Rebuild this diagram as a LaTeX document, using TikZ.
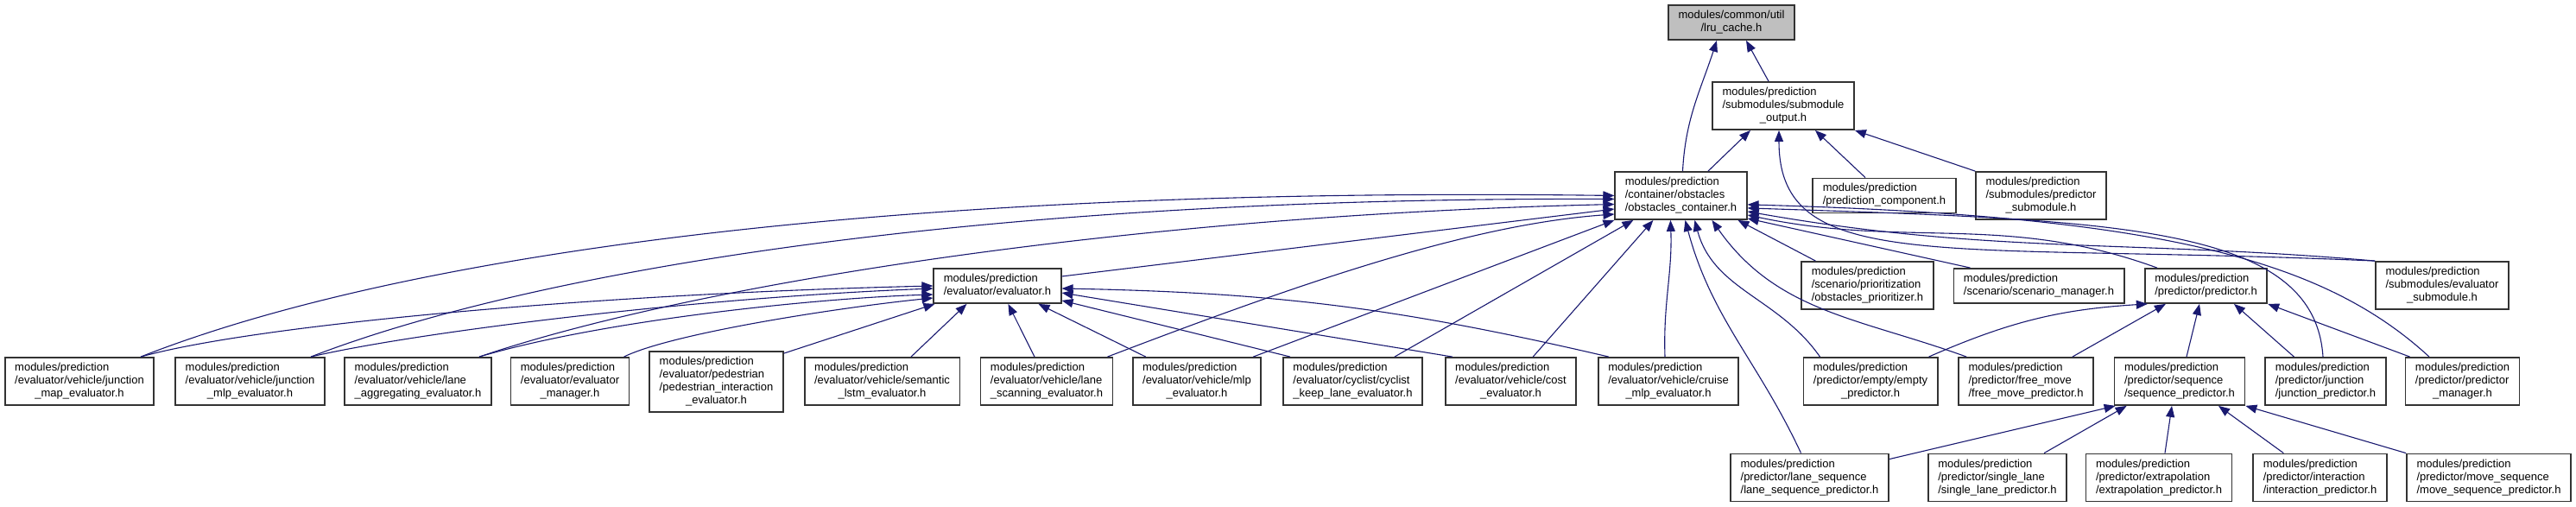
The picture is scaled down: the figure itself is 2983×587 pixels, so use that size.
\documentclass[tikz,border=0pt]{standalone}
\usepackage{fontspec}
\setmainfont{Liberation Sans}
\usetikzlibrary{arrows.meta}
\usepackage{xcolor}

\definecolor{edgeblue}{HTML}{191970}
\definecolor{rootgray}{HTML}{BFBFBF}
% label: left-aligned lines, last line centred
\newcommand{\flab}[2]{\begin{tabular}{@{}l@{}}#1\\\multicolumn{1}{@{}c@{}}{#2}\end{tabular}}

\begin{document}
\begin{tikzpicture}[
  x=0.5pt, y=-0.5pt,
  file/.style={draw=black!80, line width=0.9pt, fill=white,
               inner xsep=5.75pt, inner ysep=2.5pt,
               font=\fontsize{6.5}{7.5}\selectfont},
  root/.style={file, fill=rootgray},
  dep/.style={draw=edgeblue, line width=0.55pt,
              -{Triangle[length=6.5pt,width=5pt]}}
]
  \useasboundingbox (0,0) rectangle (2983,587);

  % top rows
  \node[root] (lru)      at (2005,26)     {\flab{modules/common/util}{/lru\_cache.h}};
  \node[file] (subout)   at (2065,122.5)  {\flab{modules/prediction\\/submodules/submodule}{\_output.h}};
  \node[file] (obst)     at (1946.5,226.5){\flab{modules/prediction\\/container/obstacles}{/obstacles\_container.h}};
  \node[file] (predcomp) at (2182,226.5)  {\flab{modules/prediction}{/prediction\_component.h}};
  \node[file] (predsub)  at (2363.5,226.5){\flab{modules/prediction\\/submodules/predictor}{\_submodule.h}};
  \node[file] (evalh)    at (1155,331)    {\flab{modules/prediction}{/evaluator/evaluator.h}};
  \node[file] (prior)    at (2162.5,330.5){\flab{modules/prediction\\/scenario/prioritization}{/obstacles\_prioritizer.h}};
  \node[file] (scenmgr)  at (2361,331)    {\flab{modules/prediction}{/scenario/scenario\_manager.h}};
  \node[file] (predh)    at (2554.5,331)  {\flab{modules/prediction}{/predictor/predictor.h}};
  \node[file] (evalsub)  at (2828,330.5)  {\flab{modules/prediction\\/submodules/evaluator}{\_submodule.h}};

  % evaluators and predictors
  \node[file] (jmap)      at (92,441.5)    {\flab{modules/prediction\\/evaluator/vehicle/junction}{\_map\_evaluator.h}};
  \node[file] (jmlp)      at (289.5,441.5) {\flab{modules/prediction\\/evaluator/vehicle/junction}{\_mlp\_evaluator.h}};
  \node[file] (laneagg)   at (484,441.5)   {\flab{modules/prediction\\/evaluator/vehicle/lane}{\_aggregating\_evaluator.h}};
  \node[file] (evalmgr)   at (660,441.5)   {\flab{modules/prediction\\/evaluator/evaluator}{\_manager.h}};
  \node[file] (ped)       at (829.5,442)   {\flab{modules/prediction\\/evaluator/pedestrian\\/pedestrian\_interaction}{\_evaluator.h}};
  \node[file] (semlstm)   at (1021.5,441.5){\flab{modules/prediction\\/evaluator/vehicle/semantic}{\_lstm\_evaluator.h}};
  \node[file] (lanescan)  at (1212,441.5)  {\flab{modules/prediction\\/evaluator/vehicle/lane}{\_scanning\_evaluator.h}};
  \node[file] (mlp)       at (1386,441.5)  {\flab{modules/prediction\\/evaluator/vehicle/mlp}{\_evaluator.h}};
  \node[file] (cyclist)   at (1566.5,441.5){\flab{modules/prediction\\/evaluator/cyclist/cyclist}{\_keep\_lane\_evaluator.h}};
  \node[file] (cost)      at (1749.5,441.5){\flab{modules/prediction\\/evaluator/vehicle/cost}{\_evaluator.h}};
  \node[file] (cruise)    at (1932,441.5)  {\flab{modules/prediction\\/evaluator/vehicle/cruise}{\_mlp\_evaluator.h}};
  \node[file] (empty)     at (2166,441.5)  {\flab{modules/prediction\\/predictor/empty/empty}{\_predictor.h}};
  \node[file] (freemove)  at (2346,441.5)  {\flab{modules/prediction\\/predictor/free\_move}{/free\_move\_predictor.h}};
  \node[file] (seq)       at (2524,441.5)  {\flab{modules/prediction\\/predictor/sequence}{/sequence\_predictor.h}};
  \node[file] (junctpred) at (2693,441.5)  {\flab{modules/prediction\\/predictor/junction}{/junction\_predictor.h}};
  \node[file] (predmgr)   at (2851.5,441.5){\flab{modules/prediction\\/predictor/predictor}{\_manager.h}};

  % sequence predictors
  \node[file] (lanesq)   at (2095.5,553) {\flab{modules/prediction\\/predictor/lane\_sequence}{/lane\_sequence\_predictor.h}};
  \node[file] (single)   at (2313,553)   {\flab{modules/prediction\\/predictor/single\_lane}{/single\_lane\_predictor.h}};
  \node[file] (extrap)   at (2500,553)   {\flab{modules/prediction\\/predictor/extrapolation}{/extrapolation\_predictor.h}};
  \node[file] (interact) at (2686.5,553) {\flab{modules/prediction\\/predictor/interaction}{/interaction\_predictor.h}};
  \node[file] (moveseq)  at (2882,553)   {\flab{modules/prediction\\/predictor/move\_sequence}{/move\_sequence\_predictor.h}};

  % includes of lru_cache.h
  \draw[dep] ([xshift=-8.5pt]subout.north) -- ([xshift=8.5pt]lru.south);
  \draw[dep] ([xshift=1pt]obst.north) to[out=87,in=-108] ([xshift=-8.5pt]lru.south);

  % includes of submodule_output.h
  \draw[dep] ([xshift=15.75pt]obst.north) -- ([xshift=-19pt]subout.south);
  \draw[dep] ([xshift=-11pt]predcomp.north) -- ([xshift=18.5pt]subout.south);
  \draw[dep] (predsub.north west) -- (subout.south east);
  \draw[dep] (evalsub.north west) .. controls (2250,280) and (2060,320) .. ([xshift=-2.5pt]subout.south);

  % includes of obstacles_container.h
  \draw[dep] ([xshift=35.5pt]jmap.north) .. controls (450,300) and (1000,215) .. (obst.west);
  \draw[dep] ([xshift=35.25pt]jmlp.north) .. controls (600,320) and (1100,228) .. ([yshift=-2pt]obst.west);
  \draw[dep] ([xshift=35.5pt]laneagg.north) .. controls (800,330) and (1300,250) .. ([yshift=-5pt]obst.west);
  \draw[dep] ([yshift=5.5pt]evalh.east) -- ([yshift=-7.75pt]obst.west);
  \draw[dep] ([xshift=-3.5pt]lanescan.north east) .. controls (1500,330) and (1700,260) .. ([yshift=-10.75pt]obst.west);
  \draw[dep] ([xshift=-5pt]mlp.north east) -- (obst.south west);
  \draw[dep] ([xshift=-16.5pt]cyclist.north east) -- ([xshift=11pt]obst.south west);
  \draw[dep] ([xshift=-25.5pt]cost.north east) -- ([xshift=22.5pt]obst.south west);
  \draw[dep] ([xshift=-2pt]cruise.north) to[out=92,in=-88] ([xshift=32.5pt]obst.south west);
  \draw[dep] ([xshift=-5pt]lanesq.north) to[out=115,in=-75] ([xshift=41pt]obst.south west);
  \draw[dep] ([xshift=10pt]empty.north west) to[out=125,in=-75] ([xshift=46.5pt]obst.south west);
  \draw[dep] ([xshift=5pt]freemove.north west) to[out=160,in=-55] ([xshift=56.5pt]obst.south west);
  \draw[dep] ([xshift=8.5pt]prior.north west) -- ([xshift=71.5pt]obst.south west);
  \draw[dep] ([xshift=10pt]scenmgr.north west) -- ([yshift=1pt]obst.south east);
  \draw[dep] ([xshift=7.5pt]predh.north west) to[out=160,in=-12] ([yshift=3pt]obst.south east);
  \draw[dep] (evalsub.north west) to[out=175,in=-10] ([yshift=5pt]obst.south east);
  \draw[dep] ([xshift=-1.5pt]junctpred.north) .. controls (2680,260) and (2450,255) .. ([yshift=7pt]obst.south east);
  \draw[dep] ([xshift=-19.25pt]predmgr.north) .. controls (2690,300) and (2500,250) .. ([yshift=9pt]obst.south east);

  % includes of evaluator.h
  \draw[dep] ([xshift=35.5pt]jmap.north) .. controls (300,375) and (700,340) .. (evalh.west);
  \draw[dep] ([xshift=35.25pt]jmlp.north) .. controls (480,385) and (800,345) .. ([yshift=-1.5pt]evalh.west);
  \draw[dep] ([xshift=35.5pt]laneagg.north) .. controls (700,370) and (950,345) .. ([yshift=-5pt]evalh.west);
  \draw[dep] ([xshift=-3.5pt]evalmgr.north east) .. controls (780,385) and (980,355) .. ([yshift=-7pt]evalh.west);
  \draw[dep] ([yshift=-1.5pt]ped.north east) -- ([xshift=1pt]evalh.south west);
  \draw[dep] ([xshift=16.75pt]semlstm.north) -- ([xshift=19.5pt]evalh.south west);
  \draw[dep] ([xshift=-7pt]lanescan.north) -- ([xshift=43.5pt]evalh.south west);
  \draw[dep] ([xshift=8pt]mlp.north west) -- ([xshift=61pt]evalh.south west);
  \draw[dep] ([xshift=4.5pt]cyclist.north west) -- ([yshift=2pt]evalh.south east);
  \draw[dep] ([xshift=4.5pt]cost.north west) -- ([yshift=-4pt]evalh.east);
  \draw[dep] ([xshift=6.5pt]cruise.north west) to[bend right=6] ([yshift=-1.5pt]evalh.east);

  % includes of predictor.h
  \draw[dep] ([xshift=-5.5pt]empty.north east) to[bend left=10] ([xshift=2pt]predh.south west);
  \draw[dep] ([xshift=-12.5pt]freemove.north east) -- ([xshift=12.5pt]predh.south west);
  \draw[dep] ([xshift=4pt]seq.north) -- ([xshift=-3.75pt]predh.south);
  \draw[dep] ([xshift=17pt]junctpred.north west) -- ([xshift=16.25pt]predh.south);
  \draw[dep] ([xshift=3pt]predmgr.north west) -- (predh.south east);

  % includes of sequence_predictor.h
  \draw[dep] ([yshift=-3.5pt]lanesq.north east) -- ([xshift=1pt]seq.south west);
  \draw[dep] ([xshift=-13.5pt]single.north east) -- ([xshift=7.5pt]seq.south west);
  \draw[dep] ([xshift=3.5pt]extrap.north) -- ([xshift=-4.5pt]seq.south);
  \draw[dep] ([xshift=18pt]interact.north west) -- ([xshift=22.5pt]seq.south);
  \draw[dep] (moveseq.north west) -- (seq.south east);
\end{tikzpicture}
\end{document}
